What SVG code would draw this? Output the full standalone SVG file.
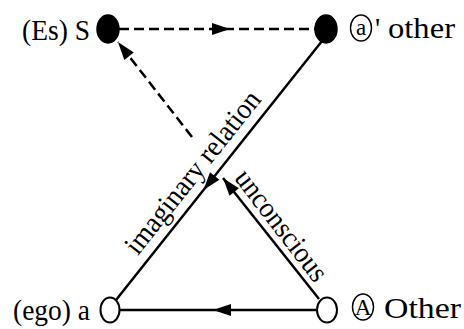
<svg xmlns="http://www.w3.org/2000/svg" width="464" height="329" viewBox="0 0 464 329">
<style>
.lbl{font-family:"Liberation Serif","Times New Roman",serif;font-size:29px;fill:#000}
.sm{font-family:"Liberation Serif","Times New Roman",serif;font-size:23px;fill:#000;text-anchor:middle}
.ln{fill:none;stroke:#000;stroke-width:2.5}
.dash{stroke-dasharray:10 5}
.filled{fill:#000;stroke:#000;stroke-width:1.5}
.open{fill:#fff;stroke:#000;stroke-width:2}
.ring{fill:none;stroke:#000;stroke-width:1.4}
</style>
<defs>
<marker id="arr" markerUnits="userSpaceOnUse" markerWidth="24" markerHeight="16" viewBox="-20 -8 22 16" refX="0" refY="0" orient="auto">
<path d="M0,0 L-18,-6 L-18,6 Z" fill="#000"/>
</marker>
</defs>
<g id="connectors">
<path class="ln dash" d="M119,29 L230,29 L315,29" marker-mid="url(#arr)"/>
<path class="ln dash" d="M192,137 L118,42" marker-end="url(#arr)"/>
<path class="ln" d="M322,41 L203.5,190 L116,300" marker-mid="url(#arr)"/>
<path class="ln" d="M319,299 L223,178" marker-end="url(#arr)"/>
<path class="ln" d="M316,310 L213,310 L120,310" marker-mid="url(#arr)"/>
<text class="lbl" text-anchor="middle" textLength="200" lengthAdjust="spacingAndGlyphs" transform="translate(200,178) rotate(-51.5)">imaginary relation</text>
<text class="lbl" text-anchor="middle" textLength="133" lengthAdjust="spacingAndGlyphs" transform="translate(274,231) rotate(52.4)">unconscious</text>
</g>
<g id="node-S">
<ellipse class="filled" cx="108" cy="29" rx="11" ry="14"/>
<text class="lbl" x="22" y="40" textLength="68" lengthAdjust="spacingAndGlyphs">(Es) S</text>
</g>
<g id="node-a-prime">
<ellipse class="filled" cx="326" cy="29" rx="11" ry="14"/>
<ellipse class="ring" cx="361" cy="28" rx="10.5" ry="13"/>
<text class="sm" x="361" y="35">a</text>
<text class="lbl" x="375" y="38">'</text>
<text class="lbl" x="388" y="38" textLength="67" lengthAdjust="spacingAndGlyphs">other</text>
</g>
<g id="node-a">
<ellipse class="open" cx="110" cy="310" rx="9.5" ry="12.5"/>
<text class="lbl" x="13" y="320" textLength="77" lengthAdjust="spacingAndGlyphs">(ego) a</text>
</g>
<g id="node-A">
<ellipse class="open" cx="327" cy="310" rx="10" ry="12.5"/>
<ellipse class="ring" cx="363" cy="307" rx="10.5" ry="13"/>
<text class="sm" x="363" y="315">A</text>
<text class="lbl" x="384" y="318" textLength="77" lengthAdjust="spacingAndGlyphs">Other</text>
</g>
</svg>
